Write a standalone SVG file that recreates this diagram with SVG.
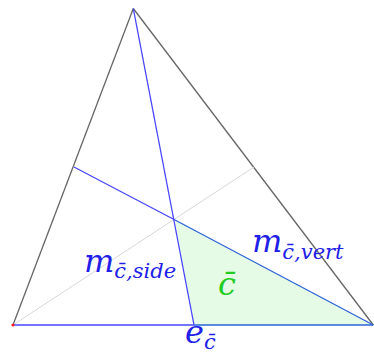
<svg xmlns="http://www.w3.org/2000/svg" width="374" height="356" viewBox="0 0 374 356">
<style>
.edge{stroke:#666;stroke-width:1.3;fill:none}
.blue{stroke:#4646ff;stroke-width:1.3;fill:none}
.dblue{stroke:#2c63d8;stroke-width:1.3;fill:none}
.light{stroke:#d8d8d8;stroke-width:1;fill:none}
.lbl{font-family:"DejaVu Serif",serif;font-style:italic;fill:#2020e8}
.sub{font-size:21px}
</style>
<rect width="374" height="356" fill="#fff"/>
<g id="region">
<polygon points="175,220 194,325 373,325" fill="#e6fbe6"/>
</g>
<g id="connectors">
<line class="edge" x1="13" y1="325" x2="133.3" y2="8.5"/>
<line class="edge" x1="133.3" y1="8.5" x2="373.3" y2="325"/>
<line class="light" x1="13" y1="325" x2="254" y2="167"/>
<line class="blue" x1="13" y1="325" x2="194" y2="325"/>
<line class="dblue" x1="194" y1="325" x2="373.3" y2="325"/>
<line class="blue" x1="133.3" y1="8.5" x2="194" y2="325"/>
<line class="blue" x1="74" y1="167" x2="175" y2="220"/>
<line class="dblue" x1="175" y1="220" x2="373.3" y2="325"/>
</g>
<g id="vertexA"><circle cx="13" cy="325" r="1.6" fill="#ff2020"/></g>
<g id="label-side"><text class="lbl" x="84" y="272" font-size="32">m<tspan class="sub" dy="6">c̄,side</tspan></text></g>
<g id="label-vert"><text class="lbl" x="252" y="252" font-size="32">m<tspan class="sub" dy="7">c̄,vert</tspan></text></g>
<g id="label-c"><text class="lbl" x="218" y="295" font-size="32" style="fill:#22cc22">c̄</text></g>
<g id="label-e"><text class="lbl" x="185" y="343" font-size="32">e<tspan class="sub" dy="6">c̄</tspan></text></g>
</svg>
